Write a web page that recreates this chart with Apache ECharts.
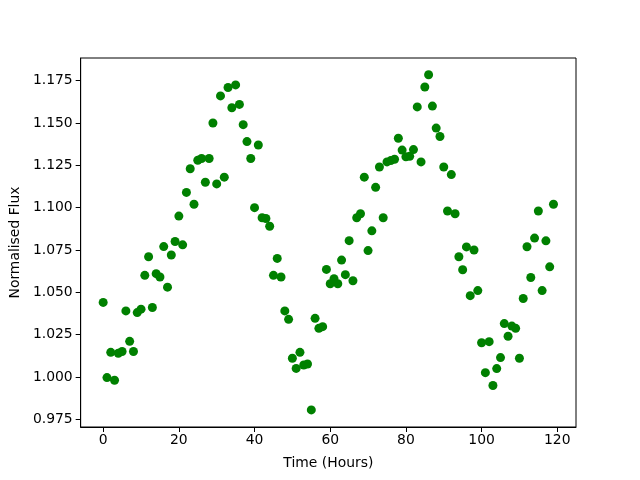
<!DOCTYPE html>
<html>
<head>
<meta charset="utf-8">
<script src="https://cdn.jsdelivr.net/npm/echarts@6/dist/echarts.min.js"></script>
<style>
html,body{margin:0;padding:0;background:#fff;}
#chart{width:640px;height:480px;}
</style>
</head>
<body>
<div id="chart"></div>
<script>
const hours = [];
for (let i = 0; i < 120; i++) hours.push(i);
const flux = [
  1.044, 0.9996, 1.0145, 0.998, 1.014, 1.015, 1.039, 1.021, 1.015, 1.038,
  1.040, 1.060, 1.071, 1.041, 1.061, 1.059, 1.077, 1.053, 1.072, 1.080,
  1.095, 1.078, 1.109, 1.123, 1.102, 1.128, 1.129, 1.115, 1.129, 1.150,
  1.114, 1.166, 1.118, 1.171, 1.159, 1.1725, 1.161, 1.149, 1.139, 1.129,
  1.100, 1.137, 1.094, 1.0936, 1.089, 1.060, 1.070, 1.059, 1.039, 1.034,
  1.011, 1.005, 1.0145, 1.007, 1.0076, 0.9805, 1.0346, 1.0287, 1.0297, 1.0635,
  1.055, 1.058, 1.055, 1.069, 1.0604, 1.0805, 1.0568, 1.094, 1.0964, 1.118,
  1.0746, 1.0863, 1.112, 1.124, 1.094, 1.127, 1.1278, 1.1286, 1.141, 1.134,
  1.130, 1.1303, 1.1343, 1.1595, 1.127, 1.1713, 1.1785, 1.160, 1.147, 1.142,
  1.124, 1.098, 1.1195, 1.0964, 1.071, 1.0633, 1.0768, 1.048, 1.075, 1.051,
  1.0202, 1.0025, 1.0208, 0.9949, 1.0049, 1.0114, 1.0315, 1.024, 1.030, 1.0287,
  1.011, 1.0463, 1.0769, 1.0587, 1.082, 1.098, 1.051, 1.0804, 1.065, 1.102
];
const xTicks = [0, 20, 40, 60, 80, 100, 120];
const yTicks = [0.975, 1.000, 1.025, 1.050, 1.075, 1.100, 1.125, 1.150, 1.175];

const points = hours.map((h, i) => [h, flux[i]]);
const font = 'DejaVu Sans';

const chart = echarts.init(document.getElementById('chart'), null, {renderer: 'canvas'});
chart.setOption({
  backgroundColor: '#ffffff',
  animation: false,
  grid: {left: 80, top: 58, width: 496, height: 369, show: true, borderColor: '#000', borderWidth: 1, backgroundColor: 'transparent'},
  xAxis: {
    type: 'value', min: -5.95, max: 124.95,
    name: 'Time (Hours)', nameLocation: 'middle', nameGap: 29,
    nameTextStyle: {fontFamily: font, fontSize: 13.9, color: '#000'},
    axisLine: {show: true, onZero: false, lineStyle: {color: '#000', width: 1}},
    axisTick: {show: true, length: 5, customValues: xTicks, lineStyle: {color: '#000'}},
    axisLabel: {customValues: xTicks, margin: 6, fontFamily: font, fontSize: 13.9, color: '#000'},
    splitLine: {show: false}
  },
  yAxis: {
    type: 'value', min: 0.9704, max: 1.1884,
    name: 'Normalised Flux', nameLocation: 'middle', nameGap: 55,
    nameTextStyle: {fontFamily: font, fontSize: 13.9, color: '#000'},
    axisLine: {show: true, onZero: false, lineStyle: {color: '#000', width: 1}},
    axisTick: {show: true, length: 5, customValues: yTicks, lineStyle: {color: '#000'}},
    axisLabel: {customValues: yTicks, margin: 8, fontFamily: font, fontSize: 13.9, color: '#000',
      formatter: v => v.toFixed(3)},
    splitLine: {show: false}
  },
  series: [{
    type: 'scatter',
    data: points,
    symbol: 'circle',
    symbolSize: 9,
    itemStyle: {color: '#008000', opacity: 1}
  }]
});
</script>
</body>
</html>
